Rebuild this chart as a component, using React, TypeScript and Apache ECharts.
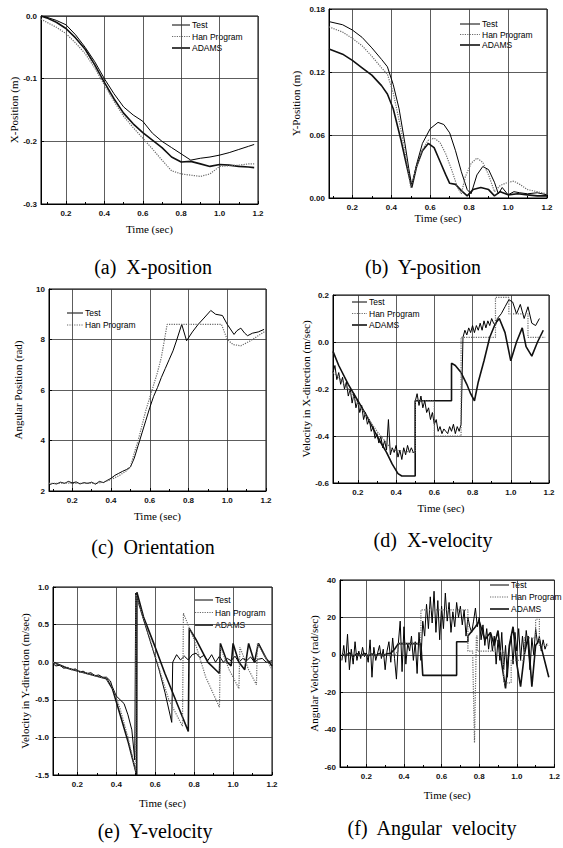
import React, { useEffect, useRef } from "react";
import * as echarts from "echarts";

// ---------- (a) X-position ----------
const aT = [0.07, 0.1, 0.15, 0.2, 0.25, 0.3, 0.35, 0.4, 0.45, 0.5, 0.55, 0.6, 0.65, 0.7, 0.75, 0.8, 0.85, 0.9, 0.95, 1.0, 1.05, 1.1, 1.15, 1.18];
const aTest = [0, -0.002, -0.007, -0.014, -0.03, -0.05, -0.073, -0.1, -0.124, -0.145, -0.158, -0.168, -0.187, -0.2, -0.21, -0.22, -0.23, -0.227, -0.225, -0.222, -0.218, -0.213, -0.208, -0.205];
const aHan = [-0.005, -0.01, -0.018, -0.028, -0.043, -0.06, -0.083, -0.11, -0.136, -0.16, -0.178, -0.195, -0.212, -0.23, -0.247, -0.252, -0.254, -0.256, -0.252, -0.24, -0.239, -0.238, -0.236, -0.236];
const aAdams = [0, -0.003, -0.01, -0.02, -0.035, -0.053, -0.078, -0.106, -0.132, -0.155, -0.172, -0.186, -0.198, -0.21, -0.225, -0.233, -0.232, -0.236, -0.24, -0.237, -0.238, -0.24, -0.241, -0.242];

// ---------- (b) Y-position ----------
const bTestT = [0.08, 0.15, 0.2, 0.25, 0.3, 0.35, 0.38, 0.41, 0.44, 0.47, 0.49, 0.505, 0.53, 0.56, 0.6, 0.64, 0.67, 0.7, 0.73, 0.76, 0.79, 0.81, 0.84, 0.87, 0.9, 0.93, 0.95, 0.97, 1.0, 1.03, 1.06, 1.1, 1.15, 1.2];
const bTest = [0.168, 0.165, 0.16, 0.153, 0.143, 0.132, 0.125, 0.108, 0.085, 0.052, 0.028, 0.012, 0.032, 0.052, 0.066, 0.072, 0.07, 0.062, 0.045, 0.025, 0.008, 0.004, 0.022, 0.03, 0.027, 0.015, 0.004, 0.01, 0.003, 0.006, 0.005, 0.004, 0.005, 0.003];
const bHanT = [0.08, 0.15, 0.2, 0.25, 0.3, 0.35, 0.38, 0.41, 0.44, 0.47, 0.49, 0.5, 0.53, 0.56, 0.59, 0.62, 0.65, 0.68, 0.71, 0.74, 0.76, 0.78, 0.81, 0.84, 0.87, 0.9, 0.93, 0.96, 1.0, 1.03, 1.06, 1.1, 1.15, 1.2];
const bHan = [0.163, 0.158, 0.152, 0.145, 0.135, 0.124, 0.118, 0.1, 0.074, 0.045, 0.022, 0.01, 0.03, 0.046, 0.055, 0.057, 0.053, 0.042, 0.027, 0.01, 0.004, 0.02, 0.033, 0.038, 0.034, 0.022, 0.006, 0.012, 0.015, 0.016, 0.013, 0.008, 0.006, 0.004];
const bAdamsT = [0.08, 0.15, 0.2, 0.25, 0.3, 0.35, 0.38, 0.41, 0.45, 0.48, 0.505, 0.53, 0.56, 0.59, 0.62, 0.65, 0.68, 0.7, 0.73, 0.76, 0.79, 0.82, 0.86, 0.9, 0.93, 0.96, 1.0, 1.05, 1.1, 1.15, 1.2];
const bAdams = [0.142, 0.137, 0.131, 0.124, 0.117, 0.107, 0.099, 0.085, 0.055, 0.03, 0.01, 0.03, 0.045, 0.052, 0.048, 0.035, 0.022, 0.014, 0.013, 0.007, 0.002, 0.008, 0.01, 0.008, 0.002, 0.006, 0.003, 0.004, 0.003, 0.002, 0.002];

// ---------- (c) Orientation ----------
const cTestT = [0.08, 0.1, 0.12, 0.14, 0.16, 0.18, 0.2, 0.22, 0.24, 0.26, 0.28, 0.3, 0.32, 0.34, 0.36, 0.38, 0.4, 0.42, 0.44, 0.46, 0.48, 0.5, 0.52, 0.54, 0.56, 0.58, 0.6, 0.62, 0.64, 0.66, 0.68, 0.7, 0.72, 0.74, 0.765, 0.79, 0.82, 0.85, 0.88, 0.915, 0.94, 0.975, 1.0, 1.035, 1.05, 1.07, 1.09, 1.105, 1.13, 1.16, 1.19];
const cTest = [2.25, 2.3, 2.28, 2.35, 2.3, 2.38, 2.32, 2.36, 2.28, 2.33, 2.3, 2.35, 2.27, 2.38, 2.33, 2.42, 2.5, 2.62, 2.7, 2.78, 2.85, 2.95, 3.3, 3.8, 4.3, 4.8, 5.3, 5.75, 6.1, 6.5, 6.85, 7.2, 7.55, 8.0, 8.6, 7.95, 8.3, 8.6, 8.85, 9.15, 9.0, 8.95, 8.6, 8.2, 8.35, 8.45, 8.25, 8.15, 8.25, 8.3, 8.4];
const cHanT = [0.08, 0.12, 0.16, 0.2, 0.24, 0.28, 0.32, 0.36, 0.4, 0.44, 0.48, 0.5, 0.52, 0.54, 0.56, 0.58, 0.6, 0.62, 0.64, 0.66, 0.69, 0.75, 0.8, 0.9, 0.97, 1.0, 1.03, 1.07, 1.12, 1.17, 1.2];
const cHan = [2.3, 2.3, 2.32, 2.3, 2.3, 2.32, 2.3, 2.35, 2.45, 2.6, 2.8, 2.95, 3.5, 4.0, 4.6, 5.2, 5.7, 6.2, 6.7, 7.3, 8.6, 8.6, 8.6, 8.6, 8.6, 8.0, 7.8, 7.75, 7.95, 8.2, 8.35];

// ---------- (d) X-velocity ----------
const dTestT = [0.07, 0.08, 0.09, 0.1, 0.11, 0.12, 0.13, 0.14, 0.15, 0.16, 0.17, 0.18, 0.19, 0.2, 0.21, 0.22, 0.23, 0.24, 0.25, 0.26, 0.27, 0.28, 0.29, 0.3, 0.31, 0.32, 0.33, 0.34, 0.35, 0.36, 0.37, 0.38, 0.39, 0.4, 0.41, 0.42, 0.43, 0.44, 0.45, 0.46, 0.47, 0.48, 0.49, 0.5, 0.501, 0.51, 0.52, 0.53, 0.54, 0.55, 0.56, 0.57, 0.58, 0.59, 0.6, 0.61, 0.62, 0.63, 0.64, 0.65, 0.66, 0.67, 0.68, 0.69, 0.7, 0.71, 0.72, 0.73, 0.74, 0.75, 0.76, 0.77, 0.78, 0.79, 0.8, 0.81, 0.82, 0.83, 0.84, 0.85, 0.86, 0.87, 0.88, 0.89, 0.9, 0.91, 0.92, 0.93, 0.95, 0.97, 0.99, 1.01, 1.03, 1.05, 1.07, 1.09, 1.11, 1.13, 1.15];
const dTest = [-0.13, -0.1, -0.16, -0.13, -0.18, -0.15, -0.2, -0.17, -0.23, -0.2, -0.26, -0.22, -0.28, -0.25, -0.3, -0.27, -0.33, -0.3, -0.35, -0.33, -0.38, -0.36, -0.41, -0.39, -0.43, -0.4, -0.45, -0.42, -0.46, -0.33, -0.48, -0.45, -0.47, -0.44, -0.49, -0.46, -0.5, -0.45, -0.48, -0.44, -0.47, -0.45, -0.47, -0.47, -0.25, -0.22, -0.27, -0.23, -0.28, -0.25, -0.3, -0.28, -0.33, -0.3, -0.35, -0.33, -0.38, -0.36, -0.39, -0.37, -0.38, -0.39, -0.36, -0.38, -0.35, -0.39, -0.36, -0.38, -0.35, 0.02, 0.05, 0.03, 0.06, 0.04, 0.07, 0.04, 0.07, 0.05, 0.08, 0.05, 0.09, 0.06, 0.09, 0.07, 0.1, 0.08, 0.07, 0.1, 0.12, 0.15, 0.18, 0.17, 0.12, 0.16, 0.1, 0.15, 0.08, 0.07, 0.1];
const dHanT = [0.07, 0.1, 0.15, 0.2, 0.25, 0.3, 0.35, 0.38, 0.5, 0.5, 0.6, 0.6, 0.74, 0.74, 0.92, 0.92, 0.99, 0.99, 1.09, 1.09, 1.18];
const dHan = [-0.13, -0.15, -0.2, -0.26, -0.32, -0.38, -0.43, -0.46, -0.47, -0.25, -0.25, -0.4, -0.4, 0.02, 0.02, 0.19, 0.19, 0.12, 0.12, 0.02, 0.02];
const dAdamsT = [0.07, 0.1, 0.15, 0.2, 0.25, 0.3, 0.35, 0.38, 0.41, 0.43, 0.5, 0.5, 0.69, 0.69, 0.71, 0.74, 0.77, 0.79, 0.81, 0.83, 0.86, 0.89, 0.92, 0.94, 0.97, 1.0, 1.03, 1.06, 1.08, 1.11, 1.14, 1.17];
const dAdams = [-0.04, -0.1, -0.18, -0.25, -0.32, -0.4, -0.47, -0.52, -0.56, -0.57, -0.57, -0.25, -0.25, -0.09, -0.1, -0.13, -0.18, -0.22, -0.25, -0.17, -0.08, 0.02, 0.08, 0.1, 0.04, -0.08, 0.0, 0.06, -0.02, -0.06, 0.0, 0.05];

// ---------- (e) Y-velocity ----------
const eTestT = [0.075, 0.09, 0.11, 0.13, 0.15, 0.17, 0.19, 0.21, 0.23, 0.25, 0.27, 0.29, 0.31, 0.33, 0.35, 0.37, 0.38, 0.4, 0.42, 0.44, 0.46, 0.48, 0.495, 0.5, 0.53, 0.56, 0.59, 0.62, 0.65, 0.685, 0.69, 0.71, 0.73, 0.75, 0.77, 0.79, 0.81, 0.83, 0.85, 0.87, 0.89, 0.91, 0.93, 0.95, 0.97, 0.99, 1.01, 1.03, 1.05, 1.07, 1.09, 1.11, 1.13, 1.15, 1.17, 1.2];
const eTest = [-0.02, -0.05, -0.04, -0.08, -0.07, -0.1, -0.09, -0.13, -0.12, -0.15, -0.14, -0.18, -0.17, -0.2, -0.2, -0.25, -0.33, -0.45, -0.5, -0.55, -0.7, -0.9, -1.3, 0.92, 0.65, 0.4, 0.15, -0.1, -0.4, -0.8, 0.0, 0.1, 0.03, 0.08, 0.03, 0.1, 0.12, 0.06, 0.09, 0.02, 0.1, 0.0, 0.08, 0.0, 0.05, 0.02, 0.08, 0.0, 0.05, 0.02, 0.07, 0.0, 0.04, 0.05, 0.0, 0.02];
const eHanT = [0.075, 0.15, 0.25, 0.35, 0.38, 0.42, 0.46, 0.5, 0.501, 0.55, 0.61, 0.67, 0.74, 0.745, 0.8, 0.86, 0.93, 0.935, 0.98, 1.03, 1.035, 1.08, 1.12, 1.125, 1.17, 1.2];
const eHan = [0.0, -0.08, -0.15, -0.22, -0.33, -0.62, -1.0, -1.45, 0.9, 0.5, 0.0, -0.5, -0.85, 0.65, 0.3, -0.2, -0.6, 0.2, -0.1, -0.35, 0.2, -0.1, -0.3, 0.25, 0.05, -0.1];
const eAdamsT = [0.075, 0.15, 0.25, 0.35, 0.38, 0.42, 0.46, 0.505, 0.506, 0.54, 0.6, 0.65, 0.72, 0.77, 0.775, 0.81, 0.87, 0.93, 0.935, 0.97, 0.99, 1.0, 1.03, 1.06, 1.08, 1.11, 1.13, 1.17, 1.2];
const eAdams = [0.0, -0.08, -0.15, -0.22, -0.35, -0.7, -1.05, -1.5, 0.93, 0.6, 0.2, -0.15, -0.6, -0.92, 0.45, 0.3, 0.0, -0.15, 0.25, 0.0, -0.05, 0.25, 0.0, -0.1, 0.25, 0.0, 0.25, 0.05, -0.05];

// ---------- (f) Angular velocity ----------
const fTestT = [0.07, 0.08, 0.09, 0.1, 0.11, 0.12, 0.13, 0.14, 0.15, 0.16, 0.17, 0.18, 0.19, 0.2, 0.21, 0.22, 0.23, 0.24, 0.25, 0.26, 0.27, 0.28, 0.29, 0.3, 0.31, 0.32, 0.33, 0.34, 0.35, 0.36, 0.37, 0.38, 0.39, 0.4, 0.41, 0.42, 0.43, 0.44, 0.45, 0.46, 0.47, 0.48, 0.49, 0.5, 0.51, 0.52, 0.53, 0.54, 0.55, 0.56, 0.57, 0.58, 0.59, 0.6, 0.61, 0.62, 0.63, 0.64, 0.65, 0.66, 0.67, 0.68, 0.69, 0.7, 0.71, 0.72, 0.73, 0.74, 0.75, 0.76, 0.77, 0.78, 0.79, 0.8, 0.81, 0.82, 0.83, 0.84, 0.85, 0.86, 0.87, 0.88, 0.89, 0.9, 0.91, 0.92, 0.93, 0.94, 0.95, 0.96, 0.97, 0.98, 0.99, 1.0, 1.01, 1.02, 1.03, 1.04, 1.05, 1.06, 1.07, 1.08, 1.09, 1.1, 1.11, 1.12, 1.13, 1.14, 1.15, 1.16];
const fTest = [-3, 5, -4, 11, -8, 3, -5, 7, -3, 2, -2, 4, -1, 1, -4, 8, -12, 4, -3, 1, 5, -2, 3, -8, 2, 7, -4, 9, -2, -13, 6, 18, -9, 15, -5, 6, 2, 10, -3, 7, -10, 12, -3, 18, 10, 27, 14, 31, 17, 34, 12, 29, 8, 26, 14, 33, 18, 28, 12, 23, 15, 28, 20, 26, 16, 24, 10, 20, 15, 12, 18, 25, 15, 20, 8, 16, 5, 14, 3, 12, 2, 10, -5, 8, -3, 12, -8, 5, -12, 3, 10, -5, 12, 2, 14, -3, 10, 0, 13, 5, -8, 9, 0, 14, 6, 10, 2, 8, 3, 6];
const fHanT = [0.07, 0.35, 0.37, 0.37, 0.49, 0.49, 0.74, 0.74, 0.765, 0.775, 0.785, 0.79, 0.79, 0.93, 0.93, 0.97, 0.97, 1.04, 1.04, 1.1, 1.1, 1.12, 1.12, 1.17];
const fHan = [0, 0, 2, 6, 6, 24, 24, 2, 2, -47, 10, 10, 2, 2, -15, -15, -3, -3, 9, 9, 19, 19, 5, 5];
const fAdamsT = [0.07, 0.09, 0.11, 0.13, 0.15, 0.17, 0.19, 0.21, 0.23, 0.25, 0.27, 0.29, 0.31, 0.33, 0.35, 0.37, 0.49, 0.5, 0.68, 0.68, 0.74, 0.74, 0.78, 0.8, 0.83, 0.86, 0.88, 0.9, 0.92, 0.94, 0.96, 0.98, 1.0, 1.02, 1.04, 1.06, 1.08, 1.1, 1.12, 1.17];
const fAdams = [0.5, -0.5, 1, -0.8, 0.6, -0.5, 0.8, -0.6, 0.5, -0.4, 0.7, -0.5, 0.6, 0.8, 3, 6, 6, -11, -11, 7, 7, 10, 15, 18, 8, 12, 5, 13, -5, -18, 5, 15, -5, -17, 0, 10, -17, 5, 8, -12];

const LEGEND3 = ["Test", "Han Program", "ADAMS"];
const LEGEND2 = ["Test", "Han Program"];

const zip = (t: number[], v: number[]) => t.map((x, i) => [x, v[i]]);

const panels = [
  {
    yName: "X-Position (m)", xMin: 0.07, yMin: -0.3, yMax: 0, yStep: 0.1, dec: 1,
    grid: { left: 41, top: 16, width: 217, height: 188 }, xGap: 19, yGap: 22,
    legend: { x: 172, y: 25, w: 18, step: 11.5, names: LEGEND3 },
    series: [["Test", zip(aT, aTest)], ["Han Program", zip(aT, aHan)], ["ADAMS", zip(aT, aAdams)]],
    caption: "(a)  X-position", cx: 153, cy: 267,
  },
  {
    yName: "Y-Position (m)", xMin: 0.08, yMin: 0, yMax: 0.18, yStep: 0.06, dec: 2,
    grid: { left: 329, top: 9, width: 218, height: 189 }, xGap: 14, yGap: 28,
    legend: { x: 460, y: 24, w: 20, step: 10.5, names: LEGEND3 },
    series: [["Test", zip(bTestT, bTest)], ["Han Program", zip(bHanT, bHan)], ["ADAMS", zip(bAdamsT, bAdams)]],
    caption: "(b)  Y-position", cx: 423, cy: 267,
  },
  {
    yName: "Angular Position (rad)", xMin: 0.08, yMin: 2, yMax: 10, yStep: 2, dec: 0,
    grid: { left: 49, top: 289, width: 217, height: 202 }, xGap: 19, yGap: 26,
    legend: { x: 67, y: 313, w: 16, step: 12, names: LEGEND2 },
    series: [["Test", zip(cTestT, cTest)], ["Han Program", zip(cHanT, cHan)]],
    caption: "(c)  Orientation", cx: 153, cy: 547,
  },
  {
    yName: "Velocity in X-direction (m/sec)", xMin: 0.07, yMin: -0.6, yMax: 0.2, yStep: 0.2, dec: 1,
    grid: { left: 333, top: 295, width: 216, height: 188 }, xGap: 19, yGap: 21,
    legend: { x: 352, y: 302, w: 15, step: 11.5, names: LEGEND3 },
    series: [["Test", zip(dTestT, dTest)], ["Han Program", zip(dHanT, dHan)], ["ADAMS", zip(dAdamsT, dAdams)]],
    caption: "(d)  X-velocity", cx: 433, cy: 540,
  },
  {
    yName: "Velocity in Y-direction (m/sec)", xMin: 0.075, yMin: -1.5, yMax: 1.0, yStep: 0.5, dec: 1,
    grid: { left: 53, top: 587, width: 219, height: 188 }, xGap: 22, yGap: 23,
    legend: { x: 195, y: 600, w: 18, step: 12.5, names: LEGEND3 },
    series: [["Test", zip(eTestT, eTest)], ["Han Program", zip(eHanT, eHan)], ["ADAMS", zip(eAdamsT, eAdams)]],
    caption: "(e)  Y-velocity", cx: 155, cy: 831,
  },
  {
    yName: "Angular Velocity (rad/sec)", xMin: 0.06, yMin: -60, yMax: 40, yStep: 20, dec: 0,
    grid: { left: 340, top: 580, width: 217, height: 187 }, xGap: 22, yGap: 21,
    legend: { x: 490, y: 585, w: 19, step: 12, names: LEGEND3 },
    series: [["Test", zip(fTestT, fTest)], ["Han Program", zip(fHanT, fHan)], ["ADAMS", zip(fAdamsT, fAdams)]],
    caption: "(f)  Angular  velocity", cx: 432, cy: 828,
  },
];

const lineStyles: Record<string, any> = {
  Test: { color: "#000", width: 1, type: "solid" },
  "Han Program": { color: "#6a6a6a", width: 1.2, type: "dotted" },
  ADAMS: { color: "#111", width: 1.6, type: "solid" },
};

function legendGraphics() {
  const out: any[] = [];
  panels.forEach((p) => {
    const L = p.legend;
    L.names.forEach((n, k) => {
      const y = L.y + k * L.step;
      const ls = lineStyles[n];
      out.push({
        type: "line", silent: true,
        shape: { x1: L.x, y1: y, x2: L.x + L.w, y2: y },
        style: { stroke: ls.color, lineWidth: ls.width, lineDash: ls.type === "dotted" ? [1.2, 1.2] : null },
      });
      out.push({
        type: "text", silent: true, x: L.x + L.w + 2, y,
        style: { text: n, textVerticalAlign: "middle", font: '8.5px "Liberation Sans"', fill: "#000" },
      });
    });
  });
  return out;
}

function buildOption() {
  const labelFont = { fontFamily: "Liberation Sans", fontSize: 8, fontWeight: "bold" as const, color: "#111" };
  const nameFont = { fontFamily: "Liberation Serif", fontSize: 11, color: "#000" };
  return {
    animation: false,
    backgroundColor: "#fff",
    grid: panels.map((p) => ({ ...p.grid, show: true, borderColor: "#000", borderWidth: 1, backgroundColor: "transparent" })),
    xAxis: panels.map((p, i) => ({
      type: "value", gridIndex: i, min: p.xMin, max: 1.2, minInterval: 0.2, maxInterval: 0.2,
      name: "Time (sec)", nameLocation: "middle", nameGap: p.xGap, nameTextStyle: nameFont,
      axisLine: { show: true, onZero: false, lineStyle: { color: "#000", width: 1 } },
      axisTick: { show: true, inside: true, length: 3, lineStyle: { color: "#000" } },
      minorTick: { show: true, splitNumber: 2, length: 2, lineStyle: { color: "#000" } },
      axisLabel: { ...labelFont, margin: 5, showMinLabel: false, formatter: (v: number) => v.toFixed(1) },
      splitLine: { show: true, lineStyle: { color: "#333", width: 0.8 } },
    })),
    yAxis: panels.map((p, i) => ({
      type: "value", gridIndex: i, min: p.yMin, max: p.yMax, interval: p.yStep,
      name: p.yName, nameLocation: "middle", nameGap: p.yGap, nameRotate: 90, nameTextStyle: nameFont,
      axisLine: { show: true, onZero: false, lineStyle: { color: "#000", width: 1 } },
      axisTick: { show: true, inside: true, length: 3, lineStyle: { color: "#000" } },
      axisLabel: { ...labelFont, margin: 4, formatter: (v: number) => v.toFixed(p.dec) },
      splitLine: { show: true, lineStyle: { color: "#333", width: 0.8 } },
    })),
    series: panels.flatMap((p, i) =>
      p.series.map(([name, data]) => ({
        type: "line", name, xAxisIndex: i, yAxisIndex: i, data, symbol: "none",
        lineStyle: lineStyles[name as string], itemStyle: { color: lineStyles[name as string].color },
        z: name === "Han Program" ? 3 : 2,
      }))
    ),
    graphic: [
      ...legendGraphics(),
      ...panels.map((p) => ({
        type: "text", x: p.cx, y: p.cy, silent: true,
        style: { text: p.caption, textAlign: "center", textVerticalAlign: "middle", font: '20px "Liberation Serif"', fill: "#000" },
      })),
    ],
  };
}

export default function App() {
  const ref = useRef<HTMLDivElement>(null);
  useEffect(() => {
    const chart = echarts.init(ref.current!, null, { renderer: "svg" });
    chart.setOption(buildOption() as any);
    return () => chart.dispose();
  }, []);
  return <div ref={ref} style={{ position: "absolute", left: 0, top: 0, width: 563, height: 848, background: "#fff" }} />;
}
